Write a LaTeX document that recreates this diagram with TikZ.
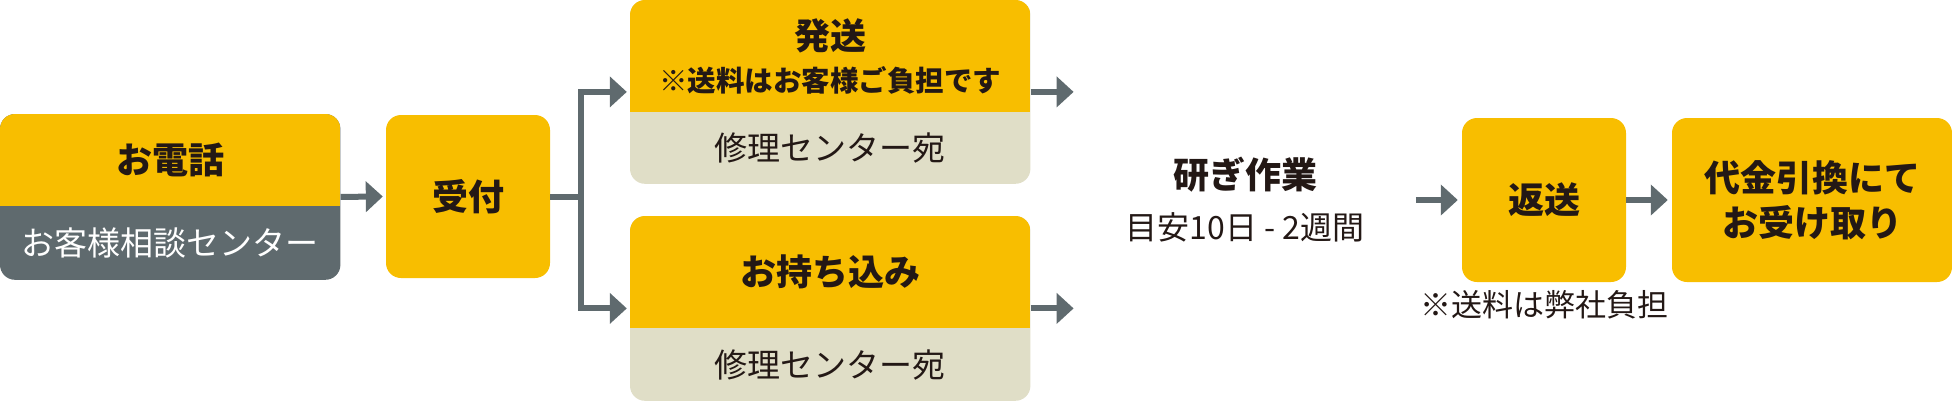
\documentclass[tikz,border=0pt]{standalone}
\usepackage{fontspec}
\setmainfont{Noto Sans CJK JP}
\usepackage{xcolor}
\definecolor{sunyellow}{RGB}{248,190,0}
\definecolor{slatebar}{RGB}{95,106,110}
\definecolor{paperbeige}{RGB}{224,222,199}
\definecolor{inkbrown}{RGB}{35,24,21}
\usepackage{tikz}
\usetikzlibrary{
  arrows.meta,
  positioning,
  fit,
  backgrounds
}
\tikzset{
  headbox/.style={inner sep=0pt, align=center, text=inkbrown,
    font=\bfseries\fontsize{36}{45}\selectfont},
  subbox/.style={inner sep=0pt, align=center, text=inkbrown,
    font=\fontsize{33}{40}\selectfont},
  sunbox/.style={headbox, fill=sunyellow, rounded corners=15pt},
  cardbox/.style n args={3}{fit=(#1)(#2), inner sep=0pt,
    rounded corners=15pt, fill=#3,
    path picture={\fill[sunyellow, sharp corners]
      (#1.north west) rectangle (#1.south east);}},
  link/.style={line width=6pt, draw=slatebar},
  arr/.style={link, -{Triangle[length=17pt, width=30pt]}, shorten >=3pt},
}

\begin{document}
\begin{tikzpicture}[x=1pt, y=-1pt]
  \useasboundingbox (0,0) rectangle (1952,400);

  % Phone
  \node[headbox, minimum width=340pt, minimum height=92pt,
        anchor=north west] (tel) at (0,114) {お電話};
  \node[subbox, text=white, minimum width=340pt, minimum height=73pt,
        below=0pt of tel] (telsub) {お客様相談センター};

  % Reception
  \node[sunbox, minimum width=164pt, minimum height=163pt]
    (recept) at (468,196.5) {受付};

  % Shipping
  \node[headbox, minimum width=400pt, minimum height=112pt,
        font=\bfseries\fontsize{36}{42}\selectfont,
        anchor=north west] (ship) at (630,0)
    {発送\\{\fontsize{28.5}{42}\selectfont ※送料はお客様ご負担です}};
  \node[subbox, minimum width=400pt, minimum height=71pt,
        below=0pt of ship] (shipsub) {修理センター宛};

  % Carry-in
  \node[headbox, minimum width=400pt, minimum height=112pt,
        anchor=north west] (bring) at (630,216) {お持ち込み};
  \node[subbox, minimum width=400pt, minimum height=72pt,
        below=0pt of bring] (bringsub) {修理センター宛};

  % Sharpening
  \node[subbox, font=\fontsize{32}{51}\selectfont] (work) at (1245,200)
    {{\bfseries\fontsize{36}{51}\selectfont 研ぎ作業}\\目安10日 - 2週間};

  % Return
  \node[sunbox, minimum width=164pt, minimum height=164pt]
    (ret) at (1544,200) {返送};
  \node[subbox, font=\fontsize{31}{40}\selectfont,
        below=8pt of ret] (retnote) {※送料は弊社負担};
  \node[sunbox, minimum width=280pt, minimum height=164pt]
    (cod) at (1812,200) {代金引換にて\\お受け取り};

  % Card backgrounds
  \begin{scope}[on background layer]
    \node[cardbox={tel}{telsub}{slatebar}] (telall) {};
    \node[cardbox={ship}{shipsub}{paperbeige}] (shipall) {};
    \node[cardbox={bring}{bringsub}{paperbeige}] (bringall) {};
  \end{scope}

  % Free ends
  \coordinate[right=43pt of shipall.east] (shipend);
  \coordinate[right=43pt of bringall.east] (bringend);
  \coordinate[left=46pt of ret.west] (workend);

  % Arrows
  \draw[arr] (telall.east) -- (recept.west);
  \draw[link] (recept.east) -- ++(31,0) coordinate (fork);
  \draw[arr] (fork) |- (shipall.west);
  \draw[arr] (fork) |- (bringall.west);
  \draw[arr, shorten >=0pt] (shipall.east) -- (shipend);
  \draw[arr, shorten >=0pt] (bringall.east) -- (bringend);
  \draw[arr, shorten >=4pt] (workend) -- (ret.west);
  \draw[arr, shorten >=4pt] (ret.east) -- (cod.west);
\end{tikzpicture}
\end{document}
